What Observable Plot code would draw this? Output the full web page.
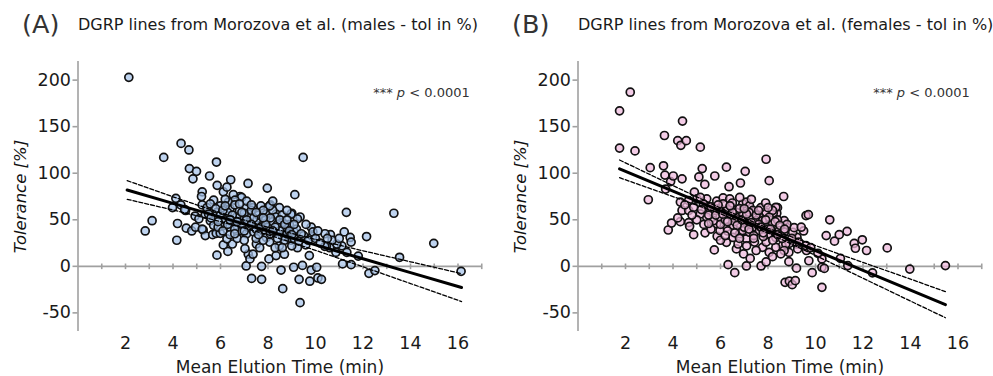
<!DOCTYPE html>
<html><head><meta charset="utf-8">
<script src="https://cdn.jsdelivr.net/npm/d3@7"></script>
<script src="https://cdn.jsdelivr.net/npm/@observablehq/plot@0.6"></script>
<style>
body{margin:0;background:#fff;}
#wrap{position:relative;width:993px;height:376px;font-family:"DejaVu Sans",sans-serif;overflow:hidden;}
.tag{position:absolute;font-size:25.5px;line-height:25.5px;color:#333;white-space:nowrap;}
.sub{position:absolute;font-size:16px;line-height:16px;color:#1a1a1a;white-space:nowrap;}
.pn{position:absolute;top:45px;}
</style></head>
<body>
<div id="wrap">
  <div class="tag" style="left:22px;top:12px">(A)</div>
  <div class="sub" style="left:78px;top:17px">DGRP lines from Morozova et al. (males - tol in %)</div>
  <div class="tag" style="left:512px;top:12px">(B)</div>
  <div class="sub" style="left:578px;top:17px">DGRP lines from Morozova et al. (females - tol in %)</div>
  <div class="pn" id="pA" style="left:0px"></div>
  <div class="pn" id="pB" style="left:500px"></div>
</div>
<script>
// ---- data ----
const xDomain = [0, 17];
const yDomain = [-70, 220];
const xTickLabels = [2, 4, 6, 8, 10, 12, 14, 16];
const xTickMarks = [1, 2, 3, 4, 5, 6, 7, 8, 9, 10, 11, 12, 13, 14, 15, 16, 17];
const yTicks = [-50, 0, 50, 100, 150, 200];
const xLabel = "Mean Elution Time (min)";
const yLabel = "Tolerance [%]";
const pLabel = "*** p < 0.0001";

// males: [mean elution time, tolerance %]
const males = [
[2.14,203],[2.83,38],[3.12,49],[3.61,117],[3.98,63],[4.16,28],[4.19,46],[4.12,73],[4.33,66],[4.34,132],
[4.67,125],[4.69,105],[4.99,102],[4.84,94],[4.53,60],[4.56,41],[4.79,38],[4.49,61],[4.93,54],[5.54,97],
[5.83,112],[5.86,87],[6.43,93],[7.16,89],[5.23,80],[5.2,75],[6.12,80],[6.27,85],[7.97,84],[9.13,77],
[6.82,75],[6.54,77],[9.48,117],[11.3,58],[13.3,57],[6.89,74],[7.07,63],[7.37,63],[8.1,66],[8.48,63],
[8.99,56],[9.35,53],[5.23,66],[5.27,39],[5.36,33],[5.67,34],[5.85,12],[6.31,16],[6.12,23],[6.5,24],
[7.08,0.4],[7.31,-13],[7.73,-14],[7.73,0],[7.17,13],[7.24,8],[8.04,8],[8.55,-4],[8.62,-24],[9.08,-1],
[9.35,-39],[9.31,-14],[9.45,1],[9.76,-16],[9.82,-4],[10.05,-1],[10.1,-12.5],[10.25,-14],[9.74,11.5],[9.0,57],
[9.82,42],[9.87,32],[10.6,20],[10.63,34],[11.21,37],[11.46,31],[11.5,26],[11.11,22],[11.14,2.6],[11.5,1.8],
[11.8,11],[12.15,32],[12.25,-7.5],[12.5,-4.6],[13.54,9.7],[14.98,24.7],[16.13,-5.4],[10.86,15],[10.9,24],[10.46,22],
[9.89,37],[9.1,37],[10.39,21.5],[11.32,15],[9.59,23],[9.24,20],[8.9,29.5],[8.0,63.4],[7.93,56],[8.34,56],
[4.95,42],[5.09,51],[5.36,56],[5.43,63],[5.23,40],[5.82,35.5],[6.27,29.5],[5.99,35.5],[6.19,44],[6.4,42],
[6.68,44],[6.89,38],[7.1,35],[7.17,42],[7.51,44],[7.79,38],[7.37,13],[7.03,19],[7.51,24],[7.65,20],
[7.93,31],[8.07,26],[8.34,37],[8.62,32],[8.69,13],[8.34,11.5],[8.48,22],[8.97,28],[9.24,51],[8.97,56],
[8.76,42],[8.62,47],[8.2,60],[8.07,65],[8.34,53],[7.79,46],[7.51,49],[7.23,53],[6.96,52],[6.68,53],
[6.4,62],[6.61,71],[6.33,69],[5.99,65],[5.71,71],[5.57,67],[5.85,58],[5.57,49],[5.71,44],
[6.0,55],[6.2,50],[6.3,58],[6.5,48],[6.6,40],[6.7,30],[6.8,60],[6.9,45],[7.0,57],[7.0,28],
[7.2,47],[7.3,60],[7.4,37],[7.5,30],[7.6,55],[7.7,65],[7.8,28],[7.9,50],[8.0,42],[8.1,35],
[8.2,48],[8.3,20],[8.4,45],[8.5,38],[8.6,55],[8.7,28],[8.8,35],[8.9,45],[9.0,22],[9.1,30],
[9.2,40],[9.3,27],[9.5,33],[9.6,45],[9.7,28],[10.0,30],[10.2,25],[10.4,35],[10.7,28],[11.0,30],
[5.9,42],[6.1,38],[6.4,34],[6.6,66],[7.1,70],[7.4,52],[7.8,60],[8.2,70],[5.5,56],[5.8,62],
[6.2,72],[7.5,40],[8.6,20],[8.8,60],[9.4,35],[10.1,38],[10.5,30],
[5.6,52],[5.9,48],[6.1,60],[6.3,45],[6.5,55],[6.7,48],[6.9,58],[7.1,50],[7.3,45],[7.5,58],
[7.7,42],[7.9,45],[8.1,52],[8.3,42],[8.5,50],[8.7,45],[8.9,38],[9.1,45],[6.2,65],[6.8,67],
[7.3,66],[7.8,52],[8.4,30],[8.8,50],[7.0,38],[6.6,35],[7.6,34],[8.2,38],[9.0,34],[6.4,50]
];

// females: [mean elution time, tolerance %]
const females = [
[1.75,167],[2.2,187],[1.75,127],[2.4,124],[3.04,106],[2.96,71.5],[3.6,108],[3.64,140.5],[3.66,98],[3.69,83],
[3.9,91],[4.01,97],[4.2,135],[4.33,130],[4.38,94],[4.4,156],[4.56,135],[5.15,128],[5.23,105],[5.09,96],
[5.34,88],[5.76,97],[6.25,106.5],[6.36,85.5],[6.84,89.5],[7.04,102],[7.92,115],[8.05,92],[8.66,75],[8.4,63],
[8.37,57],[7.85,58],[9.6,54.5],[9.7,55.5],[10.6,50],[10.45,33],[10.8,27],[11.0,34],[11.33,37.6],[11.63,24.7],
[11.68,19.4],[11.97,28.5],[12.15,17],[13.02,19.8],[11.05,8.5],[11.36,0.8],[12.4,-7],[13.97,-3],[15.47,0.8],[10.27,8],
[10.27,-1],[10.37,-2.2],[10.27,-22.6],[9.86,-6.8],[9.72,6],[9.2,-2],[8.88,5],[8.72,-17.2],[8.9,-16],[9.02,-19.7],
[9.15,-15.4],[8.88,15],[8.6,22],[9.2,24],[9.62,17],[9.6,22.3],[9.22,31],[9.04,36.6],[8.77,42],[9.1,41.5],
[9.25,18.7],[8.9,24.7],[3.8,39],[3.94,46.5],[4.31,48],[4.38,60],[4.66,47],[4.7,43],[4.87,34],[5.35,36],
[5.86,32.3],[5.74,17.6],[6.32,1.8],[6.6,-6.8],[6.67,18.7],[7.09,0.4],[6.97,13.3],[7.25,8.5],[7.71,0.4],[7.92,4.7],
[8.22,57],[8.33,63.4],[4.9,79.6],[4.31,69],[4.66,60],[5.01,72.5],[5.42,72.5],[5.49,63.4],[5.84,70],[6.11,73.5],
[5.84,45.6],[6.25,25.8],[5.56,58],[5.77,60],[5.98,62],[6.25,60],[6.46,63.4],[6.67,58],[6.94,67],[7.09,69],
[7.22,65],[7.36,60],[7.64,52.7],[7.92,58],[8.19,60],[8.68,49],[8.05,15],[8.19,10.4],[7.77,20.4],[7.5,17],
[7.43,26],[7.09,29.5],[6.81,35],[6.53,31],[6.25,42],[6.53,44],[6.81,45.6],[7.09,47.3],[7.36,42],[7.64,38.4],
[7.92,44],[8.19,45.6],[8.47,38.4],[8.68,36.6],[8.75,24],[8.68,17],[8.33,20.4],[8.54,13.3],[5.98,52.7],[5.7,49],
[5.42,52.7],[5.15,56.3],[5.98,38.4],[6.67,52.7],[6.94,56.3],[7.22,52.7],[7.5,49],[7.77,49],[8.05,52.7],[6.94,38.4],
[7.22,36.6],[8.05,35],[8.33,31],[7.92,26],[6.74,24],[6.11,67],[5.28,67],[5.15,74],[4.66,70.6],[4.87,63.4],
[6.39,72.5],[6.81,74],[5.3,45],[5.6,40],[6.0,45],[6.2,50],[6.4,55],[6.6,48],[6.8,62],[7.0,42],
[7.2,58],[7.4,33],[7.6,45],[7.8,32],[8.0,40],[8.2,28],[8.4,50],[8.6,30],[8.8,45],[9.0,30],
[9.3,26],[9.5,38],[9.8,20],[10.1,14],[6.0,28],[6.5,68],[7.1,22],[7.7,63],[5.6,64],[5.0,50],
[4.8,55],[4.5,66],[4.2,52],[6.3,38],[7.3,72],[7.9,68],[9.4,42],
[5.5,55],[5.8,55],[6.1,56],[6.3,48],[6.5,58],[6.7,44],[6.9,50],[7.1,56],[7.3,47],[7.5,55],
[7.7,42],[7.9,50],[8.1,40],[8.3,48],[8.5,44],[8.7,40],[5.9,66],[6.4,65],[7.0,62],[7.6,60],
[8.0,63],[6.6,36],[7.2,40],[7.8,36],[8.4,34],[6.2,33],[5.2,61],[5.5,46],[6.8,30],[7.4,30]
];

// regression fit and 95% confidence limits, read at a few x positions
const fitXA  = [2.07, 4, 6, 8, 10, 12, 14, 16.15];
const fitA   = [82, 67.6, 52.8, 37.9, 23.0, 8.1, -6.8, -22.8];
const ciUpA  = [92, 74.7, 57.5, 41.9, 28.8, 16.7, 4.9, -7.8];
const ciLoA  = [72, 60.5, 48.1, 33.9, 17.2, -0.5, -18.5, -37.8];

const fitXB  = [1.75, 4, 6, 8, 10, 12, 14, 15.47];
const fitB   = [104.7, 80.8, 59.5, 38.3, 17.0, -4.3, -25.5, -41.2];
const ciUpB  = [114.2, 86.7, 62.6, 40.9, 22.3, 4.2, -13.7, -27.2];
const ciLoB  = [95.2, 74.9, 56.5, 35.7, 11.7, -12.8, -37.3, -55.2];

// ---- styles ----
const axisGray = "#a0a0a0";
const textCol = "#1a1a1a";
const vtick = {draw(ctx, size) { const h = Math.sqrt(size / Math.PI); ctx.moveTo(0, -h); ctx.lineTo(0, h); }};

function panel(pts, fx, fy, up, lo, fill, width, marginRight) {
  const rows = pts.map(([x, y]) => ({x, y}));
  const fit = fx.map((x, i) => ({x, fit: fy[i], up: up[i], lo: lo[i]}));
  const svg = Plot.plot({
    width, height: 331,
    marginTop: 16, marginBottom: 45, marginLeft: 77.5, marginRight,
    x: {domain: xDomain},
    y: {domain: yDomain},
    style: {fontFamily: "DejaVu Sans", fontSize: "17.5px", color: textCol, background: "white", overflow: "visible"},
    marks: [
      Plot.ruleX([0], {stroke: axisGray, strokeWidth: 1.6}),
      Plot.ruleY([0], {stroke: axisGray, strokeWidth: 1.6}),
      Plot.dot(xTickMarks, {x: d => d, y: () => 0, symbol: vtick, r: 2.8, fill: "none", stroke: axisGray, strokeWidth: 1.6}),
      Plot.axisY({ticks: yTicks, tickSize: 5, tickPadding: 2, stroke: axisGray, strokeWidth: 1.6, fill: textCol, tickFormat: d => String(d), label: null}),
      Plot.axisX({ticks: xTickLabels, tickSize: 0, tickPadding: 5, fill: textCol, tickFormat: d => String(d), label: null}),
      Plot.dot(rows, {x: "x", y: "y", r: 4, fill, fillOpacity: 0.72, stroke: "#111", strokeWidth: 1.7}),
      Plot.line(fit, {x: "x", y: "up", stroke: "#000", strokeWidth: 1.3, strokeDasharray: "4,2"}),
      Plot.line(fit, {x: "x", y: "lo", stroke: "#000", strokeWidth: 1.3, strokeDasharray: "4,2"}),
      Plot.line(fit, {x: "x", y: "fit", stroke: "#000", strokeWidth: 3}),
      Plot.text([yLabel], {frameAnchor: "left", dx: -57.5, rotate: -90, textAnchor: "middle", lineAnchor: "middle", fontStyle: "italic", fontSize: 16.5, fill: "#111"}),
      Plot.text([xLabel], {frameAnchor: "bottom", dy: 41, fontSize: 17, fill: textCol}),
      Plot.text([pLabel], {frameAnchor: "top-right", dx: -12, dy: 26, textAnchor: "end", fontSize: 13, fill: "#333"})
    ]
  });
  svg.querySelectorAll("text").forEach(t => {
    if (t.textContent === pLabel) {
      t.textContent = "";
      const ns = "http://www.w3.org/2000/svg";
      const a = document.createElementNS(ns, "tspan"); a.textContent = "*** ";
      const b = document.createElementNS(ns, "tspan"); b.textContent = "p"; b.setAttribute("font-style", "italic");
      const c = document.createElementNS(ns, "tspan"); c.textContent = " < 0.0001";
      t.append(a, b, c);
    }
  });
  return svg;
}

document.getElementById("pA").append(panel(males, fitXA, fitA, ciUpA, ciLoA, "#a6c3ea", 500, 18.75));
document.getElementById("pB").append(panel(females, fitXB, fitB, ciUpB, ciLoB, "#efb8dd", 493, 11.75));
</script>
</body></html>
